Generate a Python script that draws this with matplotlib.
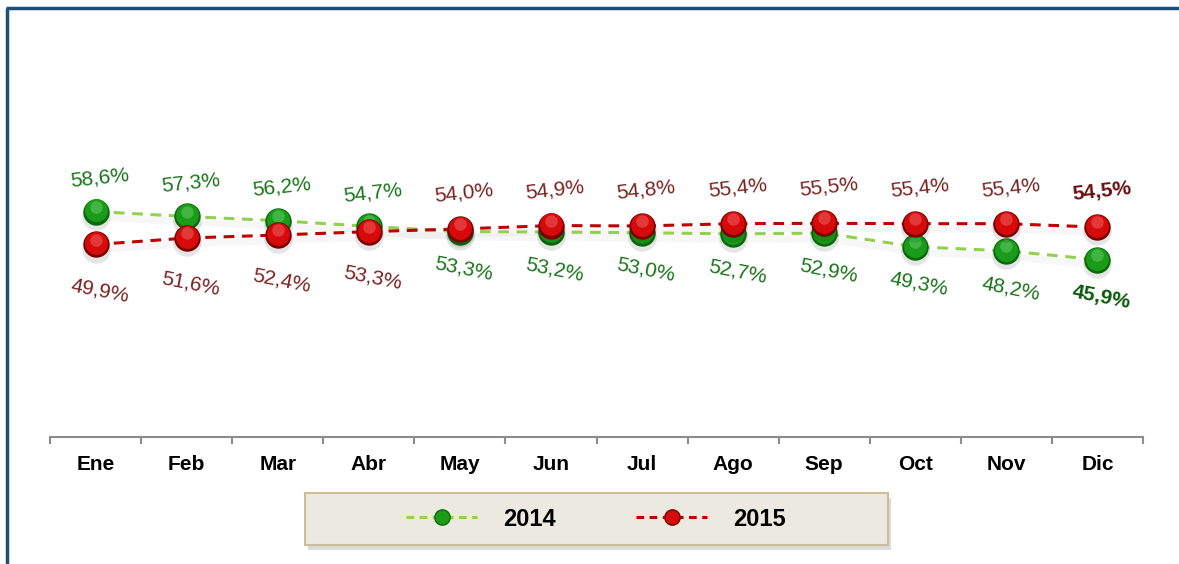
import matplotlib
matplotlib.use("Agg")
import matplotlib.pyplot as plt
from matplotlib.lines import Line2D
from matplotlib.patches import Rectangle
from matplotlib import transforms

plt.rcParams['font.family'] = ['Liberation Sans', 'DejaVu Sans']

# data
months = ["Ene", "Feb", "Mar", "Abr", "May", "Jun", "Jul", "Ago", "Sep", "Oct", "Nov", "Dic"]
vals_2014 = [58.6, 57.3, 56.2, 54.7, 53.3, 53.2, 53.0, 52.7, 52.9, 49.3, 48.2, 45.9]
vals_2015 = [49.9, 51.6, 52.4, 53.3, 54.0, 54.9, 54.8, 55.4, 55.5, 55.4, 55.4, 54.5]
series_names = ["2014", "2015"]
# label above (True) or below (False) the point
above_2014 = [True, True, True, True, False, False, False, False, False, False, False, False]
above_2015 = [not a for a in above_2014]

W, H = 1179, 564
fig = plt.figure(figsize=(W / 100, H / 100), dpi=100)
ax = fig.add_axes([50 / W, 1 - 437 / H, (1143 - 50) / W, (437 - 55) / H])
ax.set_xlim(-0.5, 11.5)
ax.set_ylim(-1, 100)

x = list(range(len(months)))

styles = {
    "2014": dict(line="#92D050", dark="#0A6A0A", main="#1A9C1A", light="#8BE68B",
                 text="#1A741A", bold="#0B5A0B", up=24, down=-27),
    "2015": dict(line="#C00000", dark="#780000", main="#D60A0A", light="#FF8C8C",
                 text="#7B2121", bold="#6A1010", up=26, down=-33),
}


def off(dx, dy):
    return transforms.offset_copy(ax.transData, fig=fig, x=dx, y=dy, units='points')


for name, vals in zip(series_names, [vals_2014, vals_2015]):
    st = styles[name]
    # soft shadow under line
    ax.plot(x, vals, color="#000000", lw=5, alpha=0.03, transform=off(0, -4), zorder=1)
    ax.plot(x, vals, color=st["line"], lw=2.2, ls=(0, (3.5, 2.5)), zorder=2)

for name, vals in zip(series_names, [vals_2014, vals_2015]):
    st = styles[name]
    z = 3 if name == "2014" else 6
    ax.plot(x, vals, ls="none", marker="o", ms=20.5, color="#000000", alpha=0.10,
            mec="none", transform=off(0, -3), zorder=z)
    ax.plot(x, vals, ls="none", marker="o", ms=19, color=st["dark"], mec="none", zorder=z)
    ax.plot(x, vals, ls="none", marker="o", ms=16.5, color=st["main"], mec="none",
            transform=off(0, 0.8), zorder=z)
    ax.plot(x, vals, ls="none", marker="o", ms=9, color=st["light"], mec="none",
            alpha=0.35, transform=off(0, 3.5), zorder=z)

for name, vals, above in zip(series_names, [vals_2014, vals_2015], [above_2014, above_2015]):
    st = styles[name]
    for i, v in enumerate(vals):
        last = i == len(vals) - 1
        dy = st["up"] if above[i] else st["down"]
        rot = 6 if above[i] else -11
        ax.annotate(f"{v:.1f}%".replace(".", ","), (i, v), xytext=(3, dy),
                    textcoords="offset points", ha="center", va="center",
                    fontsize=15, rotation=rot,
                    color=st["bold"] if last else st["text"],
                    fontweight="bold" if last else "normal", zorder=10)

# axes styling
for s in ["top", "right", "left"]:
    ax.spines[s].set_visible(False)
ax.spines["bottom"].set_color("#8C8C8C")
ax.spines["bottom"].set_linewidth(1.5)
ax.set_yticks([])
ax.set_xticks(x)
ax.set_xticklabels(months, fontsize=15, fontweight="bold")
ax.tick_params(axis="x", which="major", length=0, pad=13)
ax.set_xticks([i - 0.5 for i in range(len(months) + 1)], minor=True)
ax.tick_params(axis="x", which="minor", length=5, width=1.5, color="#8C8C8C")
ax.patch.set_alpha(0)

# legend background with shadow
lx0, ly0, lx1, ly1 = 305, 493, 888, 545
fig.add_artist(Rectangle((lx0 / W + 3 / W, 1 - (ly1 + 5) / H), (lx1 - lx0) / W, (ly1 - ly0) / H,
                         transform=fig.transFigure, facecolor="#C4C4C4", edgecolor="none",
                         alpha=0.6, zorder=1))
fig.add_artist(Rectangle((lx0 / W, 1 - ly1 / H), (lx1 - lx0) / W, (ly1 - ly0) / H,
                         transform=fig.transFigure, facecolor="#ECE9E0", edgecolor="#C9BF98",
                         lw=1.5, zorder=2))

handles = []
for name in series_names:
    st = styles[name]
    handles.append(Line2D([], [], color=st["line"], lw=2.2, ls=(0, (2.5, 1.8)),
                          marker="o", ms=11, mfc=st["main"], mec=st["dark"]))
leg = fig.legend(handles, series_names, loc="center", ncol=2,
                 bbox_to_anchor=(596 / W, 1 - 519 / H), frameon=False,
                 prop=dict(size=17, weight="bold"), handlelength=3.0,
                 columnspacing=3.4, handletextpad=1.1)
leg.set_zorder(3)

# blue frame (left and top)
blue = "#1F4E79"
fig.add_artist(Line2D([7 / W, 7 / W], [0, 1 - 8 / H], transform=fig.transFigure,
                      color=blue, lw=2.5, solid_capstyle="butt"))
fig.add_artist(Line2D([6 / W, 1], [1 - 8 / H, 1 - 8 / H], transform=fig.transFigure,
                      color=blue, lw=2.5, solid_capstyle="butt"))

fig.savefig("out.png", dpi=100, facecolor="white")
